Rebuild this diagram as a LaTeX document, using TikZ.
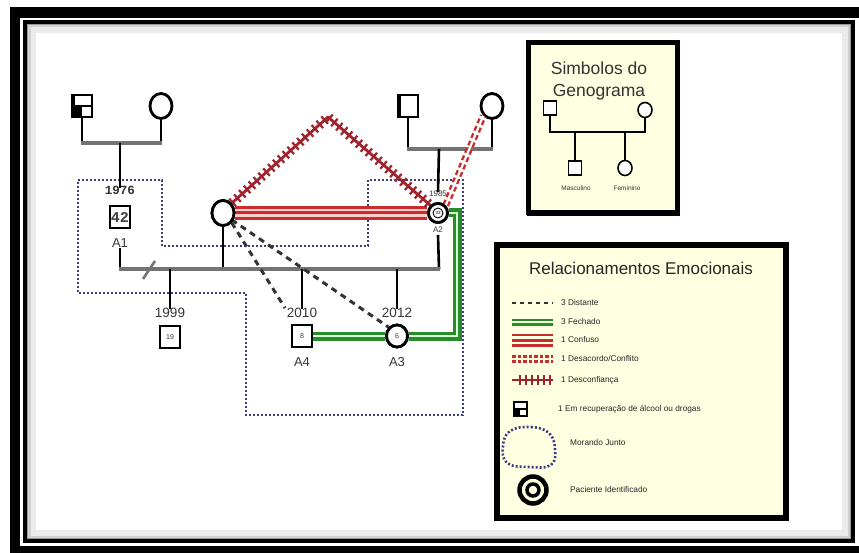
\documentclass[tikz,border=0pt]{standalone}
\usepackage{fontspec}
\setmainfont{Liberation Sans}
\newfontfamily\monof{Liberation Mono}
\usetikzlibrary{shapes.geometric}
\newcommand\myfs[1]{\fontsize{#1}{#1}\selectfont}
\definecolor{redA}{RGB}{200,45,45}
\definecolor{redB}{RGB}{160,35,45}
\definecolor{greenA}{RGB}{40,140,40}
\definecolor{dotblue}{RGB}{60,60,130}
\definecolor{barg}{RGB}{115,115,115}
\definecolor{legbg}{RGB}{255,255,225}
\definecolor{txtg}{RGB}{55,55,55}
\tikzset{
  male/.style={rectangle, draw=black, line width=2.8pt, fill=white, minimum width=20pt, minimum height=22pt, inner sep=0pt},
  female/.style={ellipse, draw=black, line width=2.8pt, fill=white, minimum width=22pt, minimum height=25pt, inner sep=0pt},
  smallmale/.style={rectangle, draw=black, line width=1.6pt, fill=white, minimum width=13pt, minimum height=14pt, inner sep=0pt},
  smallfemale/.style={ellipse, draw=black, line width=1.6pt, fill=white, minimum width=14pt, minimum height=15pt, inner sep=0pt},
  drop/.style={black, line width=2.6pt},
  bar/.style={barg, line width=4pt},
  yearlab/.style={text=txtg, font=\myfs{13.5}, inner sep=0pt},
  idlab/.style={text=txtg, font=\myfs{13}, inner sep=0pt},
  house/.style={dotblue, line width=2.2pt, dash pattern=on 2pt off 2pt},
  distant/.style={draw=black!80, line width=3pt, dash pattern=on 6pt off 5pt},
  closeA/.style={greenA, line width=9pt},
  closeB/.style={green!15!white, line width=2pt},
  legtxt/.style={anchor=west, font=\myfs{8.3}, text=black!85, inner sep=0pt},
  legbox/.style={draw=black, fill=legbg, line width=5pt},
}
\begin{document}
\begin{tikzpicture}[x=1pt,y=-1pt]
\useasboundingbox (0,0) rectangle (859,553);
\fill[white] (0,0) rectangle (859,553);
% frame
\fill[black] (10,7) rectangle (859,18);
\fill[black] (10,7) rectangle (20,553);
\fill[black] (10,546) rectangle (859,553);
\draw[black!8, line width=6pt] (33,30) rectangle (845,533);
\draw[black!18, line width=3pt] (29,26) rectangle (849,537);
\draw[black!40, line width=1.5pt] (27.5,24.5) rectangle (850.5,538.5);
\draw[black, line width=3.5pt] (25,22) rectangle (853,541);

% ---------- household (dotted) ----------
\draw[house] (78,180) -- (162,180) -- (162,246) -- (368,246) -- (368,180) -- (463,180)
  -- (463,415) -- (246,415) -- (246,293) -- (78,293) -- cycle;

% ---------- grandparents left ----------
\node[male] (gf1) at (82,106) {};
\fill[black] (gf1.north west) rectangle ([xshift=4pt]gf1.south west);
\fill[black] (gf1.west) rectangle (gf1.south);
\draw[black, line width=1.5pt] (gf1.west) -- (gf1.east);
\node[female] (gm1) at (161,106) {};
\coordinate (b1L) at (82,143);
\coordinate (b1R) at (161,143);
\coordinate (b1c) at (120,143);
\draw[drop] (gf1.south) -- (b1L);
\draw[drop] (gm1.south) -- (b1R);
\draw[bar] ([xshift=-1.3pt]b1L) -- ([xshift=1.3pt]b1R);

% ---------- grandparents right ----------
\node[male] (gf2) at (408,106) {};
\fill[black] (gf2.north west) rectangle ([xshift=4pt]gf2.south west);
\node[female] (gm2) at (492,106) {};
\coordinate (b2L) at (408,149);
\coordinate (b2R) at (492,149);
\coordinate (b2c) at (439,149);
\draw[drop] (gf2.south) -- (b2L);
\draw[drop] (gm2.south) -- (b2R);
\draw[bar] ([xshift=-1.3pt]b2L) -- ([xshift=1.3pt]b2R);

% ---------- A1 ----------
\node[font=\monof\bfseries\myfs{12.5}, text=black!80, inner sep=0pt] (y1976) at (120,190) {1976};
\draw[drop] (b1c) -- ([yshift=-2pt]y1976.north);
\node[male, font=\monof\bfseries\myfs{15}, text=black!75] (A1) at (120,217) {42};
\node[idlab] (A1lab) at (120,243) {A1};

% ---------- A2 ----------
\node[font=\myfs{8}, text=txtg, inner sep=0pt] (y1985) at (438,194) {1985};
\draw[drop] (b2c) -- ([yshift=-1pt]y1985.north);
\node[circle, draw=black, line width=2.8pt, fill=white, minimum size=19pt, inner sep=0pt] (A2) at (438,213) {};
\node[font=\myfs{8}, text=txtg, inner sep=0pt] (A2lab) at (438,230) {A2};

% ---------- woman ----------
\node[female] (W) at (223,213) {};

% ---------- sibling bar ----------
\coordinate (s1) at (120,269);
\coordinate (sW) at (223,269);
\coordinate (s2010) at (302,269);
\coordinate (s2012) at (397,269);
\coordinate (s1999) at (170,269);
\coordinate (sA2) at (439,269);
\draw[drop] (A1lab.south) -- (s1);
\draw[drop] (W.south) -- (sW);
\draw[drop] ([yshift=-2pt]A2lab.south) -- (sA2);
\draw[bar] ([xshift=-1.3pt]s1) -- ([xshift=1.3pt]sA2);
\coordinate (sl1) at (143,279);
\coordinate (sl2) at (155,261);
\draw[barg, line width=2.5pt] (sl1) -- (sl2);

% children
\node[yearlab] (y1999) at (170,313) {1999};
\draw[drop] (s1999) -- ([yshift=-1pt]y1999.north);
\node[male, font=\myfs{7}, text=txtg] (C19) at (170,337) {19};

\node[yearlab] (y2010) at (302,313) {2010};
\draw[drop] (s2010) -- ([yshift=-1pt]y2010.north);
\node[male, font=\myfs{7}, text=txtg] (A4) at (302,336) {8};
\node[idlab] (A4lab) at (302,362) {A4};

\node[yearlab] (y2012) at (397,313) {2012};
\draw[drop] (s2012) -- ([yshift=-1pt]y2012.north);
\node[female, minimum width=21pt, minimum height=22pt, font=\myfs{7}, text=txtg] (A3) at (397,336) {6};
\node[idlab] (A3lab) at (397,362) {A3};

% ---------- relationships ----------
% confuso (triple red)
\draw[redA, line width=14pt] (W.east) -- (A2.west);
\draw[white!80!red, line width=8.5pt] (W.east) -- (A2.west);
\draw[redA, line width=3pt] (W.east) -- (A2.west);
% desconfianca
\coordinate (apex) at (328,117);
\draw[redB, line width=10pt, dash pattern=on 2.2pt off 4.3pt, line join=round] (W.north east) -- (apex) -- (A2.north west);
\draw[redB, line width=2.8pt, line join=round] (W.north east) -- (apex) -- (A2.north west);
% desacordo / conflito
\draw[redA, line width=7pt, dash pattern=on 5pt off 3pt] (A2.north east) -- (gm2.south west);
\draw[white, line width=2.2pt] (A2.north east) -- (gm2.south west);
% distant
\coordinate (d1) at (285,308);
\draw[distant] (W.south east) -- (d1);
\draw[distant] ([yshift=3pt]W.south east) -- (A3.north west);
% close (green)
\coordinate (g1) at (457,213);
\coordinate (g2) at (457,336);
\draw[closeA] (A4.east) -- (A3.west);
\draw[closeB] (A4.east) -- (A3.west);
\draw[closeA, line join=miter] (A2.east) -- (g1) -- (g2) -- (A3.east);
\draw[closeB, line join=miter] (A2.east) -- (g1) -- (g2) -- (A3.east);
% symbols on top
\node[female] at (W) {};
\node[circle, draw=black, line width=2.8pt, fill=white, minimum size=19pt, inner sep=0pt] at (A2) {};
\node[circle, draw=black, line width=0.9pt, minimum size=10pt, inner sep=0pt, font=\myfs{4.5}] (A2in) at (A2.center) {33};
\node[male, font=\myfs{7}, text=txtg] at (A4) {8};
\node[female, minimum width=21pt, minimum height=22pt, font=\myfs{7}, text=txtg] at (A3) {6};

% ---------- legend 1 ----------
\draw[legbox] (528,43) rectangle (677,213);
\draw[black, line width=3pt] (678.5,42) -- (678.5,214.5) -- (527,214.5);
\node[font=\myfs{17.5}, text=black!80, inner sep=0pt] (t1) at (599,68) {Simbolos do};
\node[font=\myfs{17.5}, text=black!80, inner sep=0pt] (t2) at (599,92) {Genograma};
\node[smallmale] (lf) at (550,108) {};
\node[smallfemale] (lm) at (645,110) {};
\coordinate (lbL) at (550,132);
\coordinate (lbR) at (645,132);
\coordinate (lc1) at (575,132);
\coordinate (lc2) at (625,132);
\draw[black, line width=1.6pt] (lf.south) -- (lbL) -- (lbR) -- (lm.south);
\node[smallmale] (lson) at (575,168) {};
\node[smallfemale] (ldau) at (625,168) {};
\draw[black, line width=1.6pt] (lc1) -- (lson.north);
\draw[black, line width=1.6pt] (lc2) -- (ldau.north);
\node[font=\myfs{6.5}, text=black!80, inner sep=0pt] (lmasc) at (576,188) {Masculino};
\node[font=\myfs{6.5}, text=black!80, inner sep=0pt] (lfem) at (627,188) {Feminino};

% ---------- legend 2 ----------
\draw[legbox, line width=6pt] (497,245) rectangle (786,518);
\node[font=\myfs{17}, text=black!85, inner sep=0pt] (t3) at (641,268) {Relacionamentos Emocionais};
% distante
\coordinate (r1a) at (512,303); \coordinate (r1b) at (553,303);
\draw[black!80, line width=2.5pt, dash pattern=on 4pt off 4pt] (r1a) -- (r1b);
\node[legtxt] (l1) at (561,303) {3 Distante};
% fechado
\coordinate (r2a) at (512,322); \coordinate (r2b) at (553,322);
\draw[greenA, line width=7pt] (r2a) -- (r2b);
\draw[legbg, line width=2pt] (r2a) -- (r2b);
\node[legtxt] (l2) at (561,322) {3 Fechado};
% confuso
\coordinate (r3a) at (512,340); \coordinate (r3b) at (553,340);
\draw[redA, line width=13pt] (r3a) -- (r3b);
\draw[legbg, line width=8pt] (r3a) -- (r3b);
\draw[redA, line width=3pt] (r3a) -- (r3b);
\node[legtxt] (l3) at (561,340) {1 Confuso};
% desacordo
\coordinate (r4a) at (512,359); \coordinate (r4b) at (553,359);
\draw[redA, line width=8pt, dash pattern=on 3.5pt off 2pt] (r4a) -- (r4b);
\draw[legbg, line width=2.5pt] (r4a) -- (r4b);
\node[legtxt] (l4) at (561,359) {1 Desacordo/Conflito};
% desconfianca
\coordinate (r5a) at (512,380); \coordinate (r5b) at (553,380);
\draw[redB, line width=2pt] (r5a) -- (r5b);
\draw[redB, line width=10pt, dash pattern=on 2pt off 4pt] ([xshift=7pt]r5a) -- (r5b);
\node[legtxt] (l5) at (561,380) {1 Desconfiança};
% recovery icon
\node[rectangle, draw=black, line width=2pt, fill=white, minimum width=13pt, minimum height=14pt, inner sep=0pt] (ic) at (520,409) {};
\fill[black] (ic.west) rectangle (ic.south);
\draw[black, line width=1.5pt] (ic.west) -- (ic.east);
\node[legtxt] (l6) at (558,409) {1 Em recuperação de álcool ou drogas};
% morando junto
\draw[house, line width=2.6pt] plot[smooth cycle, tension=0.7] coordinates {(510,431) (531,427) (549,433) (555,449) (551,465) (529,467) (507,463) (503,446)};
\node[legtxt] (l7) at (570,443) {Morando Junto};
% paciente
\node[circle, draw=black, line width=4.5pt, minimum size=27pt, inner sep=0pt] (pi) at (533,490) {};
\node[circle, draw=black, line width=3.5pt, minimum size=12pt, inner sep=0pt] (pi2) at (533,490) {};
\node[legtxt] (l8) at (570,490) {Paciente Identificado};
\end{tikzpicture}
\end{document}
